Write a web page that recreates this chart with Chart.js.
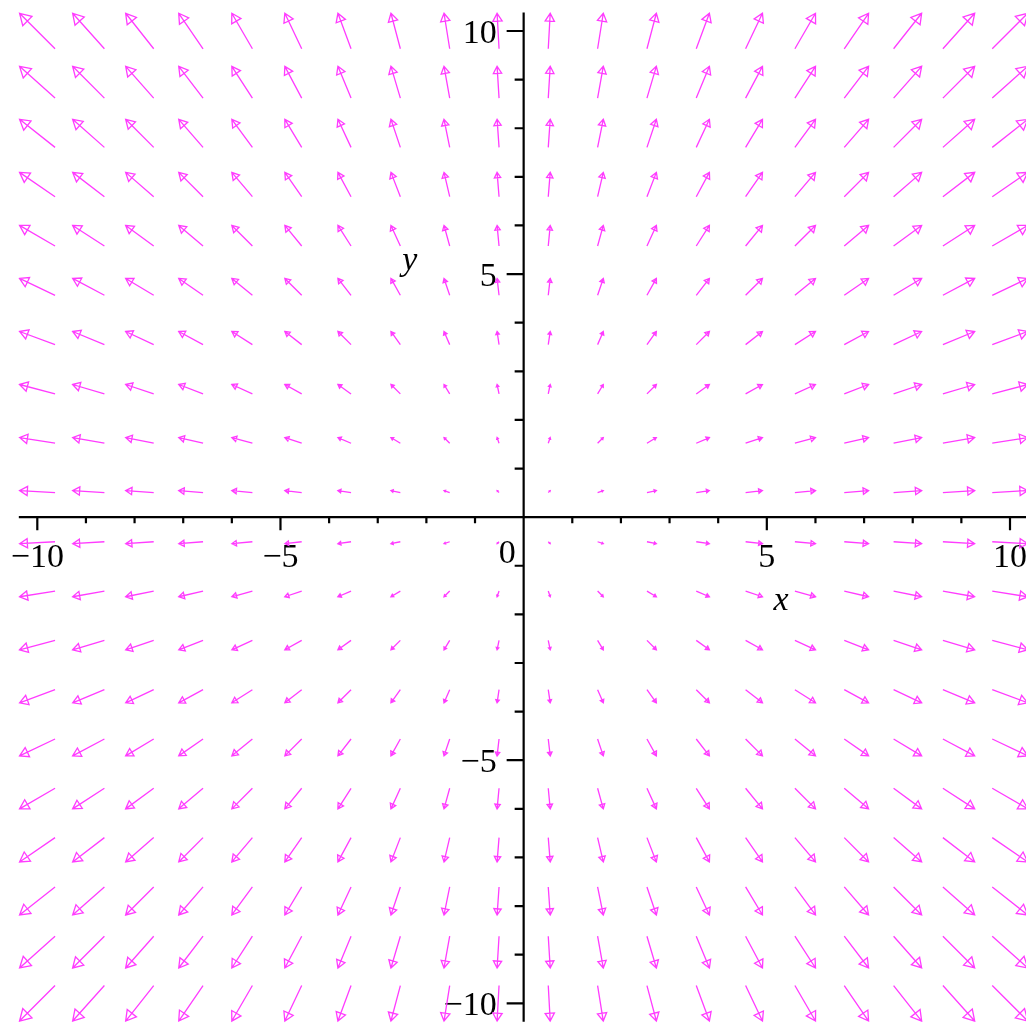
<!DOCTYPE html>
<html>
<head>
<meta charset="utf-8">
<script src="https://cdn.jsdelivr.net/npm/chart.js@4.4.1/dist/chart.umd.min.js"></script>
<style>
  html, body { margin: 0; padding: 0; background: #fff; }
  #wrap { width: 1026px; height: 1024px; position: relative; }
</style>
</head>
<body>
<div id="wrap"><canvas id="fieldChart"></canvas></div>
<script>
// arrow centres (20 x 20 grid)
const gridX = [-10, -8.947, -7.895, -6.842, -5.789, -4.737, -3.684, -2.632, -1.579, -0.526,
               0.526, 1.579, 2.632, 3.684, 4.737, 5.789, 6.842, 7.895, 8.947, 10];
const gridY = [10, 8.947, 7.895, 6.842, 5.789, 4.737, 3.684, 2.632, 1.579, 0.526,
               -0.526, -1.579, -2.632, -3.684, -4.737, -5.789, -6.842, -7.895, -8.947, -10];

// field components: horizontal part per column, vertical part per row
const fieldU = [-10, -8.95, -7.9, -6.85, -5.8, -4.75, -3.7, -2.65, -1.6, -0.55,
                0.55, 1.6, 2.65, 3.7, 4.75, 5.8, 6.85, 7.9, 8.95, 10];
const fieldV = [10, 8.95, 7.9, 6.85, 5.8, 4.75, 3.7, 2.65, 1.6, 0.55,
                -0.55, -1.6, -2.65, -3.7, -4.75, -5.8, -6.85, -7.9, -8.95, -10];

// axis ticks and labels
const xTicks = [-10, -9, -8, -7, -6, -5, -4, -3, -2, -1, 1, 2, 3, 4, 5, 6, 7, 8, 9, 10];
const yTicks = [-10, -9, -8, -7, -6, -5, -4, -3, -2, -1, 1, 2, 3, 4, 5, 6, 7, 8, 9, 10];
const xLabelValues = [-10, -5, 5, 10];
const xLabelTexts = ["\u221210", "\u22125", "5", "10"];
const yLabelValues = [10, 5, -5, -10];
const yLabelTexts = ["10", "5", "\u22125", "\u221210"];

const arrowScale = 0.073;   // data units of arrow per unit of field
const axisExtent = 10.38;
const arrowColor = "#ff3cff";
const font = '"Liberation Serif", "Times New Roman", serif';

// build scatter points from the arrays
const points = [];
gridY.forEach((gy, j) => {
  gridX.forEach((gx, i) => {
    points.push({ x: gx, y: gy, u: fieldU[i], v: fieldV[j] });
  });
});

const fieldPlot = {
  id: "fieldPlot",
  beforeDatasetsDraw(chart) {
    const ctx = chart.ctx;
    const xs = chart.scales.x, ys = chart.scales.y;
    const x0 = xs.getPixelForValue(0), y0 = ys.getPixelForValue(0);
    ctx.save();
    ctx.strokeStyle = "#000";
    ctx.lineWidth = 2.2;
    ctx.beginPath();
    ctx.moveTo(xs.getPixelForValue(-axisExtent), y0);
    ctx.lineTo(xs.getPixelForValue(axisExtent), y0);
    ctx.moveTo(x0, ys.getPixelForValue(axisExtent));
    ctx.lineTo(x0, ys.getPixelForValue(-axisExtent));
    // ticks
    xTicks.forEach(t => {
      const px = xs.getPixelForValue(t);
      const len = t % 5 === 0 ? 13 : 6;
      ctx.moveTo(px, y0);
      ctx.lineTo(px, y0 + len);
    });
    yTicks.forEach(t => {
      const py = ys.getPixelForValue(t);
      const len = t % 5 === 0 ? 17 : 9;
      ctx.moveTo(x0, py);
      ctx.lineTo(x0 - len, py);
    });
    ctx.stroke();

    // tick labels
    ctx.fillStyle = "#000";
    ctx.font = "34px " + font;
    ctx.textBaseline = "alphabetic";
    ctx.textAlign = "center";
    xLabelValues.forEach((v, i) => {
      ctx.fillText(xLabelTexts[i], xs.getPixelForValue(v), y0 + 50);
    });
    ctx.fillText("0", x0 - 16.5, y0 + 45.5);
    ctx.textAlign = "right";
    yLabelValues.forEach((v, i) => {
      ctx.fillText(yLabelTexts[i], x0 - 27, ys.getPixelForValue(v) + 11.5);
    });

    // axis titles
    ctx.font = "italic 34px " + font;
    ctx.textAlign = "center";
    ctx.fillText("x", xs.getPixelForValue(5.29), ys.getPixelForValue(-1.91));
    ctx.fillText("y", xs.getPixelForValue(-2.34), ys.getPixelForValue(5.08));
    ctx.restore();
  },
  afterDatasetsDraw(chart) {
    const ctx = chart.ctx;
    const xs = chart.scales.x, ys = chart.scales.y;
    const meta = chart.getDatasetMeta(0);
    ctx.save();
    ctx.strokeStyle = arrowColor;
    ctx.lineWidth = 1.3;
    ctx.lineJoin = "miter";
    meta.data.forEach((el, i) => {
      const p = points[i];
      const hx = p.u * arrowScale / 2, hy = p.v * arrowScale / 2;
      const tx = xs.getPixelForValue(p.x - hx), ty = ys.getPixelForValue(p.y - hy);
      const ex = xs.getPixelForValue(p.x + hx), ey = ys.getPixelForValue(p.y + hy);
      const dx = ex - tx, dy = ey - ty;
      const L = Math.hypot(dx, dy);
      if (L < 0.5) return;
      const ux = dx / L, uy = dy / L;
      const hl = 0.22 * L, hw = 0.13 * L;
      const bx = ex - ux * hl, by = ey - uy * hl;
      ctx.beginPath();
      ctx.moveTo(tx, ty);
      ctx.lineTo(ex, ey);
      ctx.moveTo(ex, ey);
      ctx.lineTo(bx - uy * hw, by + ux * hw);
      ctx.lineTo(bx + uy * hw, by - ux * hw);
      ctx.closePath();
      ctx.stroke();
    });
    ctx.restore();
  }
};

new Chart(document.getElementById("fieldChart"), {
  type: "scatter",
  data: {
    datasets: [{
      data: points,
      pointRadius: 0,
      pointHoverRadius: 0,
      showLine: false
    }]
  },
  options: {
    responsive: true,
    maintainAspectRatio: false,
    animation: false,
    layout: { padding: 0 },
    plugins: { legend: { display: false }, tooltip: { enabled: false } },
    scales: {
      x: { type: "linear", min: -10.767, max: 10.329, display: false },
      y: { type: "linear", min: -10.426, max: 10.638, display: false }
    }
  },
  plugins: [fieldPlot]
});
</script>
</body>
</html>
